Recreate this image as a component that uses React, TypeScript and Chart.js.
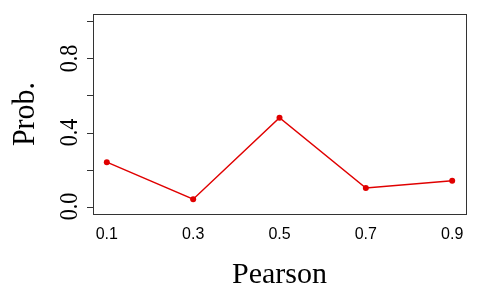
import React, { useEffect, useRef } from "react";
import { Chart, registerables } from "chart.js";

Chart.register(...registerables);

const xValues = [0.1, 0.3, 0.5, 0.7, 0.9];
const probValues = [0.24, 0.04, 0.48, 0.1, 0.14];
const xTickValues = [0.1, 0.3, 0.5, 0.7, 0.9];
const xTickLabels = ["0.1", "0.3", "0.5", "0.7", "0.9"];
const yTickValues = [0, 0.2, 0.4, 0.6, 0.8, 1.0];
const yTickLabels = ["0.0", "", "0.4", "", "0.8", ""];
const xTitle = "Pearson";
const yTitle = "Prob.";

const rStylePlugin = {
  id: "rStyle",
  afterDraw(chart: any) {
    const ctx = chart.ctx as CanvasRenderingContext2D;
    const area = chart.chartArea;
    const xs = chart.scales.x;
    const ys = chart.scales.y;
    ctx.save();
    // box
    ctx.strokeStyle = "#333";
    ctx.lineWidth = 1;
    ctx.strokeRect(Math.round(area.left) + 0.5, Math.round(area.top) + 0.5,
      Math.round(area.right - area.left), Math.round(area.bottom - area.top));
    // y ticks
    ctx.beginPath();
    yTickValues.forEach((v) => {
      const py = Math.round(ys.getPixelForValue(v)) + 0.5;
      ctx.moveTo(area.left - 6, py);
      ctx.lineTo(area.left, py);
    });
    ctx.stroke();
    // y tick labels (rotated)
    ctx.fillStyle = "#000";
    ctx.font = '21px "Liberation Serif"';
    ctx.textAlign = "center";
    ctx.textBaseline = "alphabetic";
    yTickValues.forEach((v, i) => {
      const lbl = yTickLabels[i];
      if (!lbl) return;
      const py = ys.getPixelForValue(v);
      ctx.save();
      ctx.translate(77, py);
      ctx.rotate(-Math.PI / 2);
      ctx.scale(1.05, 1.18);
      ctx.fillText(lbl, 0, 0);
      ctx.restore();
    });
    // x tick labels
    ctx.font = '16px "Liberation Sans"';
    ctx.textAlign = "center";
    xTickValues.forEach((v, i) => {
      const px = xs.getPixelForValue(v);
      ctx.fillText(xTickLabels[i], px, 239);
    });
    // titles
    ctx.font = '30px "Liberation Serif"';
    ctx.fillText(xTitle, (area.left + area.right) / 2, 283);
    ctx.save();
    ctx.translate(34, (area.top + area.bottom) / 2);
    ctx.rotate(-Math.PI / 2);
    ctx.scale(1, 1.05);
    ctx.fillText(yTitle, 0, 0);
    ctx.restore();
    ctx.restore();
  },
};

export default function App() {
  const ref = useRef<HTMLCanvasElement | null>(null);
  useEffect(() => {
    document.body.style.margin = "0";
    const chart = new Chart(ref.current as HTMLCanvasElement, {
      type: "line",
      data: {
        datasets: [
          {
            data: xValues.map((x, i) => ({ x, y: probValues[i] })),
            borderColor: "#e00000",
            backgroundColor: "#e00000",
            borderWidth: 1.5,
            pointRadius: 3,
            pointBorderWidth: 0,
            tension: 0,
          },
        ],
      },
      options: {
        animation: false,
        responsive: false,
        maintainAspectRatio: false,
        layout: { padding: { left: 93, top: 14, right: 14, bottom: 86 } },
        plugins: { legend: { display: false }, tooltip: { enabled: false } },
        scales: {
          x: { type: "linear", min: 0.068, max: 0.932, display: false },
          y: { type: "linear", min: -0.04, max: 1.04, display: false },
        },
      },
      plugins: [rStylePlugin],
    });
    return () => chart.destroy();
  }, []);
  return <canvas ref={ref} width={480} height={300} style={{ display: "block" }} />;
}
